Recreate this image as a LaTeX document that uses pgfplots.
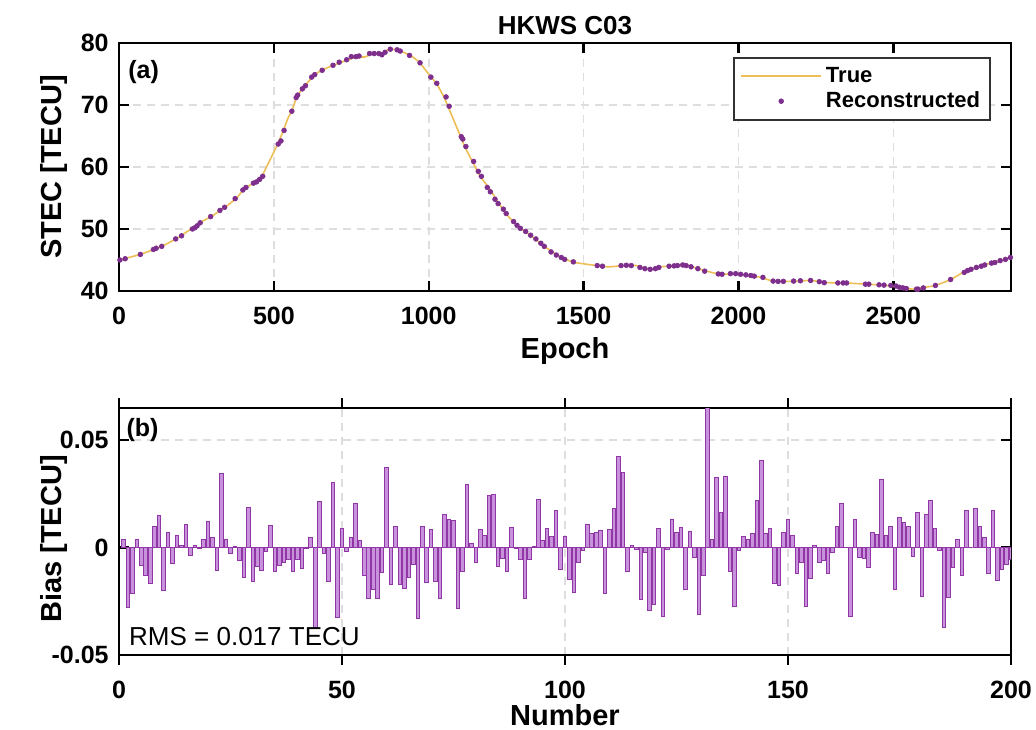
\documentclass[border=0pt]{standalone}
\usepackage{fontspec}
\setmainfont{Liberation Sans}
\usepackage{pgfplots}
\usepackage{pgfplotstable}
\pgfplotsset{compat=1.18}
\definecolor{trueline}{RGB}{237,190,85}
\definecolor{recpurple}{RGB}{126,47,142}
\definecolor{baredge}{RGB}{145,55,165}
\definecolor{barfill}{RGB}{200,145,220}
\definecolor{gridgray}{RGB}{222,222,222}
\definecolor{legdraw}{RGB}{50,50,50}

\pgfplotstableread{
x y
0 45.0
68 45.9
138 47.2
197 48.8
261 51.0
304 52.2
347 53.7
380 55.0
401 56.3
433 57.4
460 58.4
476 60.0
498 62.2
514 63.9
530 65.8
545 67.8
560 69.3
573 71.2
595 72.8
632 74.9
659 75.7
691 76.4
734 77.2
767 77.75
794 77.75
820 78.3
847 78.25
872 79.0
901 78.85
944 77.9
971 76.8
1009 74.4
1025 73.5
1049 71.3
1062 69.8
1105 64.65
1116 63.3
1141 60.9
1165 58.6
1199 56.3
1226 54.15
1261 51.8
1294 50.2
1329 49.0
1373 47.2
1428 45.4
1472 44.6
1550 44.05
1583 43.9
1643 44.15
1671 44.1
1715 43.5
1748 43.9
1792 44.05
1836 44.15
1869 43.6
1935 42.75
2002 42.7
2068 42.25
2112 41.6
2178 41.55
2233 41.7
2288 41.35
2343 41.3
2415 41.1
2476 40.9
2525 40.55
2564 40.3
2603 40.6
2636 40.9
2685 41.85
2729 43.1
2773 43.9
2817 44.55
2880 45.4
}\truetab

\pgfplotstableread{
x y
3 45.0
20 45.2
69 45.9
111 46.7
120 46.9
138 47.2
183 48.4
202 48.9
237 50.0
245 50.2
252 50.5
262 51.0
296 52.0
326 53.0
341 53.5
375 54.9
400 56.3
410 56.7
434 57.4
444 57.6
454 58.0
464 58.5
514 63.7
523 64.2
533 65.9
558 69.0
572 71.2
577 71.6
592 72.6
602 73.1
622 74.5
632 74.9
656 75.6
691 76.4
711 76.9
735 77.3
750 77.8
765 77.8
775 77.9
809 78.3
824 78.3
839 78.3
849 78.1
859 78.5
876 79.0
898 78.9
908 78.7
938 78.0
972 76.8
1007 74.5
1026 73.5
1056 71.3
1066 69.8
1105 64.9
1110 64.5
1120 63.3
1145 60.9
1160 59.3
1170 58.5
1189 56.7
1199 56.0
1214 54.8
1224 54.1
1241 53.2
1250 52.5
1274 51.2
1285 50.6
1296 50.1
1313 49.6
1329 49.0
1346 48.4
1362 47.7
1373 47.2
1395 46.3
1412 45.8
1428 45.4
1439 45.1
1467 44.7
1544 44.1
1561 44.0
1621 44.1
1638 44.15
1654 44.1
1682 43.8
1698 43.6
1715 43.5
1732 43.6
1743 43.8
1776 44.0
1792 44.05
1803 44.1
1820 44.2
1831 44.1
1847 43.9
1869 43.6
1891 43.2
1935 42.75
1947 42.7
1974 42.8
1991 42.8
2007 42.7
2024 42.6
2040 42.5
2051 42.4
2079 42.2
2112 41.6
2128 41.55
2145 41.55
2178 41.6
2200 41.65
2233 41.7
2261 41.5
2277 41.35
2321 41.3
2338 41.3
2349 41.3
2410 41.1
2421 41.1
2454 41.0
2470 40.95
2492 40.9
2509 40.8
2520 40.6
2531 40.5
2542 40.4
2575 40.3
2580 40.3
2597 40.5
2636 40.9
2685 41.85
2729 43.0
2740 43.3
2751 43.5
2768 43.8
2784 44.0
2795 44.2
2817 44.5
2828 44.6
2845 44.9
2862 45.1
2878 45.4
}\rectab

\pgfplotstableread{
n b
1 0.0039
2 -0.0279
3 -0.0215
4 0.0036
5 -0.0084
6 -0.0130
7 -0.0166
8 0.0096
9 0.0150
10 -0.0200
11 0.0071
12 -0.0073
13 0.0056
14 0.0009
15 0.0108
16 -0.0036
17 0.0012
18 -0.0006
19 0.0039
20 0.0121
21 0.0045
22 -0.0107
23 0.0345
24 0.0039
25 -0.0028
26 0.0003
27 -0.0059
28 -0.0138
29 0.0187
30 -0.0158
31 -0.0088
32 -0.0107
33 -0.0020
34 0.0105
35 -0.0113
36 -0.0084
37 -0.0070
38 -0.0054
39 -0.0113
40 -0.0054
41 -0.0099
42 -0.0005
43 0.0046
44 -0.0375
45 0.0217
46 -0.0026
47 -0.0158
48 0.0302
49 -0.0325
50 0.0088
51 -0.0020
52 0.0048
53 0.0204
54 0.0031
55 -0.0130
56 -0.0235
57 -0.0193
58 -0.0235
59 -0.0116
60 0.0372
61 -0.0173
62 0.0096
63 -0.0173
64 -0.0189
65 -0.0138
66 -0.0077
67 -0.0330
68 0.0099
69 -0.0161
70 0.0082
71 -0.0160
72 -0.0235
73 0.0155
74 0.0130
75 0.0124
76 -0.0285
77 -0.0111
78 0.0293
79 0.0017
80 -0.0071
81 0.0085
82 0.0057
83 0.0241
84 0.0246
85 -0.0087
86 -0.0051
87 -0.0113
88 0.0094
89 -0.0006
90 -0.0057
91 -0.0235
92 -0.0054
93 0.0006
94 0.0224
95 0.0033
96 0.0091
97 0.0051
98 0.0173
99 -0.0101
100 0.0050
101 -0.0149
102 -0.0208
103 -0.0071
104 -0.0015
105 0.0108
106 0.0065
107 0.0070
108 0.0079
109 -0.0212
110 0.0082
111 0.0180
112 0.0426
113 0.0350
114 -0.0111
115 0.0012
116 -0.0009
117 -0.0243
118 -0.0022
119 -0.0293
120 -0.0263
121 0.0087
122 -0.0320
123 -0.0009
124 0.0132
125 0.0070
126 0.0094
127 -0.0197
128 0.0076
129 -0.0048
130 -0.0311
131 -0.0128
132 0.0700
133 0.0036
134 0.0327
135 0.0164
136 0.0330
137 -0.0113
138 -0.0272
139 -0.0015
140 0.0054
141 0.0040
142 0.0065
143 0.0218
144 0.0406
145 0.0065
146 0.0088
147 -0.0166
148 -0.0176
149 0.0071
150 0.0130
151 0.0057
152 -0.0119
153 -0.0071
154 -0.0272
155 -0.0144
156 0.0009
157 -0.0071
158 -0.0060
159 -0.0122
160 -0.0022
161 0.0096
162 0.0204
163 0.0000
164 -0.0320
165 0.0133
166 -0.0045
167 -0.0053
168 -0.0091
169 0.0070
170 0.0059
171 0.0317
172 0.0057
173 0.0098
174 -0.0197
175 0.0141
176 0.0118
177 0.0099
178 -0.0042
179 0.0164
180 -0.0228
181 0.0153
182 0.0220
183 0.0088
184 -0.0015
185 -0.0370
186 -0.0232
187 -0.0091
188 0.0040
189 -0.0130
190 0.0175
191 0.0000
192 0.0183
193 0.0098
194 0.0045
195 -0.0122
196 0.0172
197 -0.0152
198 -0.0101
199 -0.0077
200 -0.0056
}\biastab

\pgfplotsset{
  mystyle/.style={
    scale only axis,
    width=446bp,
    axis line style={line width=1.2bp},
    tick style={black, line width=1.2bp},
    major tick length=5bp,
    grid=major,
    major grid style={gridgray, line width=0.8bp, dash pattern=on 4bp off 3bp},
    tick label style={font=\fontsize{12.5bp}{15bp}\selectfont\bfseries},
    /pgf/number format/assume math mode=true,
    /pgf/number format/1000 sep={},
    xticklabel style={yshift=-4.5bp},
    yticklabel style={xshift=-1.7bp},
    every axis y label/.style={at={(axis description cs:0,0.5)}, xshift=-32.5bp, rotate=90, anchor=center,
      font=\fontsize{14.5bp}{17bp}\selectfont\bfseries},
    every axis x label/.style={at={(axis description cs:0.5,0)}, yshift=-30bp, anchor=center,
      font=\fontsize{14.5bp}{17bp}\selectfont\bfseries},
  },
  legline/.style={legend image code/.code={\draw[##1] (0bp,0bp) -- (40bp,0bp);}},
  legdot/.style={legend image code/.code={\draw[##1] plot coordinates {(20bp,0bp)};}},
}

\begin{document}
\begin{tikzpicture}
\path[use as bounding box] (0,0) rectangle (518bp,-365bp);

\begin{axis}[mystyle,
  at={(59.5bp,-21.5bp)}, anchor=north west,
  height=124bp,
  xmin=0, xmax=2880, ymin=40, ymax=80,
  xtick={0,500,1000,1500,2000,2500},
  ytick={40,50,60,70,80},
  xlabel={Epoch}, ylabel={STEC [TECU]},
  title={HKWS C03},
  title style={font=\fontsize{13bp}{15bp}\selectfont\bfseries, yshift=-5.5bp},
  legend cell align=left,
  legend style={at={(axis description cs:1,1)}, anchor=north east,
    xshift=-10bp, yshift=-7bp, draw=legdraw, line width=1bp,
    font=\fontsize{11bp}{13bp}\selectfont\bfseries,
    inner xsep=3bp, inner ysep=3bp, row sep=0bp,
    nodes={inner ysep=1.6bp}},
]
\addplot[trueline, line width=0.8bp, smooth, tension=0.3, legline]
  table[x=x, y=y] {\truetab};
\addlegendentry{True}
\addplot[only marks, mark=*, mark size=1.2bp, color=recpurple,
  mark options={draw=recpurple, fill=recpurple, line width=0.3bp}, legdot]
  table[x=x, y=y] {\rectab};
\addlegendentry{Reconstructed}
\node[anchor=west, inner sep=0pt, font=\fontsize{12.5bp}{15bp}\selectfont\bfseries]
  at (axis description cs:0.01,0.883) {(a)};
\end{axis}

\begin{axis}[mystyle,
  at={(59.5bp,-204bp)}, anchor=north west,
  height=123.5bp,
  xmin=0, xmax=200, ymin=-0.05, ymax=0.065,
  xtick={0,50,100,150,200},
  ytick={-0.05,0,0.05},
  yticklabels={-0.05,0,0.05},
  scaled y ticks=false,
  xlabel={Number}, ylabel={Bias [TECU]},
  every axis y label/.append style={at={(axis description cs:0,0.47)}},
  ybar, bar width=0.8,
]
\addplot[fill=barfill, draw=baredge, line width=0.5bp] table[x=n, y=b] {\biastab};
\node[anchor=west, inner sep=0pt, font=\fontsize{12.5bp}{15bp}\selectfont\bfseries]
  at (axis description cs:0.008,0.911) {(b)};
\node[anchor=base west, inner sep=0pt, font=\fontsize{13bp}{15bp}\selectfont]
  at (axis description cs:0.011,0.04) {RMS = 0.017 TECU};
\end{axis}
\end{tikzpicture}
\end{document}
